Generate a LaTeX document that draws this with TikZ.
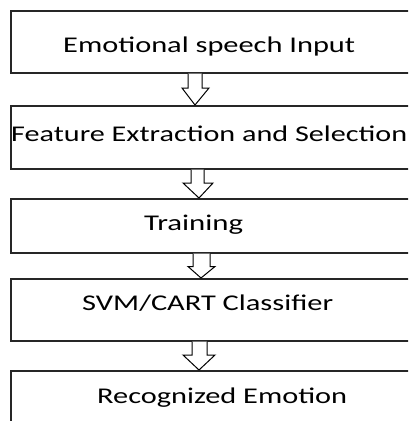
\documentclass[tikz,border=0pt]{standalone}
\usepackage{fontspec}
\setmainfont{Carlito}
\usetikzlibrary{calc}
\tikzset{
  box/.style={draw=black!85, line width=1.5pt, fill=white, rectangle, inner sep=0pt, anchor=north west},
  lbl/.style={inner sep=0pt, anchor=base west, font=\fontsize{22.5}{26}\selectfont, text=black},
  blk/.style={draw=black, line width=1pt, fill=white, line join=miter}
}
\newcommand\wtext[2]{\resizebox{#1}{\height}{#2}}
% #1 from, #2 to, #3 shaft left, #4 shaft right, #5 head y, #6 head left, #7 head right, #8 tip x  (offsets from box left edge x=10)
\newcommand\blockarr[8]{%
  \draw[blk] ([xshift=#3]#1.south west) -- ([xshift=#3]#1.south west |- 0,#5)
     -- ([xshift=#6]#1.south west |- 0,#5) -- ([xshift=#8]#2.north west)
     -- ([xshift=#7]#1.south west |- 0,#5) -- ([xshift=#4]#1.south west |- 0,#5)
     -- ([xshift=#4]#1.south west);}
\begin{document}
\begin{tikzpicture}[x=1pt,y=-1pt]
\useasboundingbox (0,0) rectangle (408,421);
\clip (0,0) rectangle (408,421);
\fill[white] (0,0) rectangle (408,421);
\node[box, minimum width=420pt, minimum height=62pt] (b1) at (10,10) {};
\node[box, minimum width=420pt, minimum height=63pt] (b2) at (10,105) {};
\node[box, minimum width=420pt, minimum height=54pt] (b3) at (10,198) {};
\node[box, minimum width=420pt, minimum height=62pt] (b4) at (10,278) {};
\node[box, minimum width=420pt, minimum height=70pt] (b5) at (10,370) {};
\node[lbl] (t1) at (63,52) {\wtext{292pt}{Emotional speech Input}};
\node[lbl] (t2) at (11,141) {\wtext{396pt}{Feature Extraction and Selection}};
\node[lbl] (t3) at (144,230) {\wtext{99pt}{Training}};
\node[lbl] (t4) at (82,310) {\wtext{251pt}{SVM/CART Classifier}};
\node[lbl] (t5) at (97,403) {\wtext{250pt}{Recognized Emotion}};
\blockarr{b1}{b2}{178pt}{192pt}{88}{172pt}{199pt}{185pt}
\blockarr{b2}{b3}{181pt}{194pt}{183}{173pt}{203pt}{189pt}
\blockarr{b3}{b4}{183pt}{200pt}{266.5}{178pt}{205pt}{191pt}
\blockarr{b4}{b5}{182pt}{197pt}{355}{173pt}{205pt}{189pt}
\end{tikzpicture}
\end{document}
